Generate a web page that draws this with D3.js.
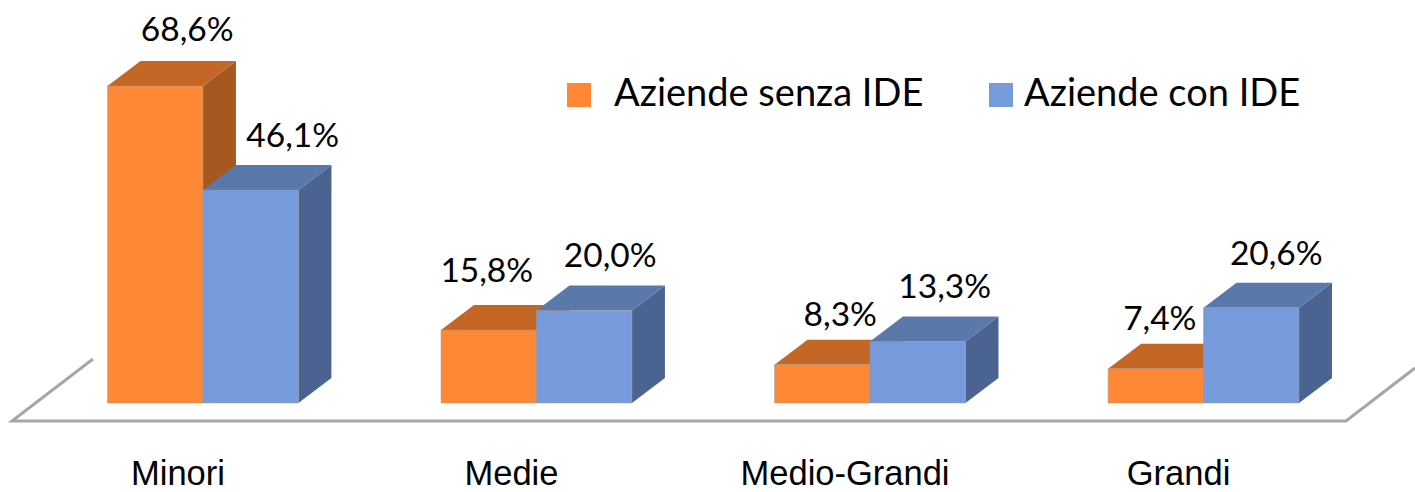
<!DOCTYPE html>
<html lang="it">
<head>
  <meta charset="UTF-8" />
  <title>Aziende con e senza IDE</title>
  <style>
    body { margin: 0; padding: 0; background: #fff; }
    svg { display: block; font-family: Lato, "Open Sans", sans-serif; }
    .label { fill: #000; font-size: 33.5px; }
    .legend text { fill: #000; font-size: 38px; }
    .floor { fill: none; stroke: #a6a6a6; stroke-width: 3px; }
    .front { stroke: #999; stroke-opacity: 0.6; stroke-width: 0.8px; }
  </style>
</head>
<body>
  <svg id="chart" width="1415" height="492"></svg>
  <script src="https://d3js.org/d3.v7.min.js"></script>
  <script>
    const categories = ["Minori", "Medie", "Medio-Grandi", "Grandi"];
    const seriesNames = ["Aziende senza IDE", "Aziende con IDE"];
    const senzaIDE = [68.6, 15.8, 8.3, 7.4];
    const conIDE = [46.1, 20.0, 13.3, 20.6];

    const width = 1415, height = 492;
    const dx = 33, dy = -25; // profondita' finta 3D
    const baseY = 403;

    const colors = [
      { front: "#ff8837", top: "#c46626", side: "#a55820" },
      { front: "#769adb", top: "#5a78aa", side: "#4b6391" }
    ];
    // spostamento delle etichette rispetto al centro della barra [x, y]
    const labelNudge = [
      [[32, -45], [-2, -48], [18, -39], [4, -39]],
      [[42, -43], [26, -44], [27, -44], [25, -43]]
    ];

    const svg = d3.select("#chart");

    const x = d3.scaleBand().domain(categories).range([107.5, 1299]).paddingInner(0.4276);
    const x1 = d3.scaleBand().domain([0, 1]).range([0, x.bandwidth()]);
    const y = d3.scaleLinear().domain([0, 68.6]).range([baseY, 86]);

    // piano di appoggio
    svg.append("path").attr("class", "floor")
      .attr("d", d3.line()([[93, 359], [12, 421], [1346, 421], [1415, 368]]));

    const rows = categories.flatMap((c, i) => [
      { cat: c, i, s: 0, v: senzaIDE[i] },
      { cat: c, i, s: 1, v: conIDE[i] }
    ]);

    const bars = svg.selectAll("g.bar").data(rows).enter().append("g").attr("class", "bar");
    const barX = d => x(d.cat) + x1(d.s);
    const w = x1.bandwidth();

    bars.append("path")
      .attr("fill", d => colors[d.s].side)
      .attr("d", d => {
        const x0 = barX(d) + w, t = y(d.v);
        return d3.line()([[x0, t], [x0 + dx, t + dy], [x0 + dx, baseY + dy], [x0, baseY]]) + "Z";
      });
    bars.append("path")
      .attr("fill", d => colors[d.s].top)
      .attr("d", d => {
        const x0 = barX(d), t = y(d.v);
        return d3.line()([[x0, t], [x0 + dx, t + dy], [x0 + w + dx, t + dy], [x0 + w, t]]) + "Z";
      });
    bars.append("rect")
      .attr("class", "front")
      .attr("fill", d => colors[d.s].front)
      .attr("x", barX)
      .attr("y", d => y(d.v))
      .attr("width", w)
      .attr("height", d => baseY - y(d.v));

    svg.selectAll("text.label").data(rows).enter().append("text")
      .attr("class", "label")
      .attr("text-anchor", "middle")
      .attr("x", d => barX(d) + w / 2 + labelNudge[d.s][d.i][0])
      .attr("y", d => y(d.v) + labelNudge[d.s][d.i][1])
      .text(d => d.v.toFixed(1).replace(".", ",") + "%");

    // asse categorie
    const axis = svg.append("g")
      .attr("transform", "translate(-25,460)")
      .call(d3.axisBottom(x).tickSize(0).tickPadding(0));
    axis.select(".domain").remove();
    axis.selectAll("text").attr("fill", "#000").style("font-family", "inherit").style("font-size", "34.5px");

    // legenda
    const legendX = [567, 989];
    const textX = [614, 1024];
    const legend = svg.selectAll("g.legend").data(seriesNames).enter().append("g").attr("class", "legend");
    legend.append("rect")
      .attr("x", (d, i) => legendX[i]).attr("y", 83)
      .attr("width", 24).attr("height", 24)
      .attr("fill", (d, i) => colors[i].front);
    legend.append("text")
      .attr("x", (d, i) => textX[i]).attr("y", 106)
      .text(d => d);
  </script>
</body>
</html>
